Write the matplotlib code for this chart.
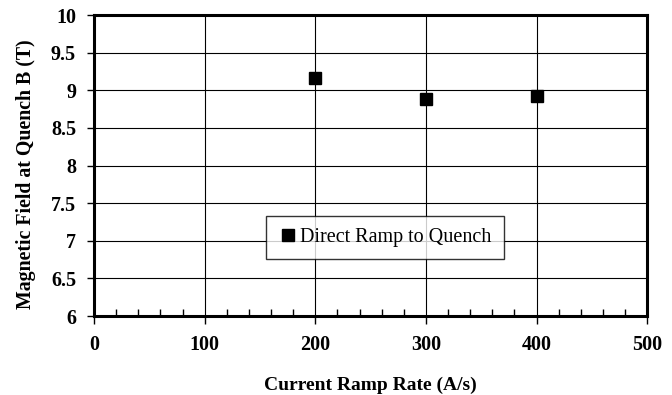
import matplotlib.pyplot as plt
from matplotlib.ticker import MultipleLocator

# data
ramp_rate = [200, 300, 400]
b_quench = [9.16, 8.88, 8.93]
x_ticks = [0, 100, 200, 300, 400, 500]
y_ticks = [6, 6.5, 7, 7.5, 8, 8.5, 9, 9.5, 10]
y_tick_labels = ['6', '6.5', '7', '7.5', '8', '8.5', '9', '9.5', '10']

plt.rcParams['font.family'] = ['Liberation Serif', 'DejaVu Serif']

fig = plt.figure(figsize=(6.72, 3.95), dpi=100)
ax = fig.add_axes([0.14, 0.2, 0.823, 0.762])

ax.plot(ramp_rate, b_quench, 's', color='black', markersize=9,
        label='Direct Ramp to Quench', zorder=3)

ax.set_xlim(0, 500)
ax.set_ylim(6, 10)
ax.set_xticks(x_ticks)
ax.set_yticks(y_ticks)
ax.set_yticklabels(y_tick_labels)
ax.xaxis.set_minor_locator(MultipleLocator(20))
ax.grid(True, which='major', color='black', linewidth=0.8)

ax.tick_params(axis='x', which='major', direction='out', length=6, width=1,
               pad=8, labelsize=14.5)
ax.tick_params(axis='x', which='minor', direction='in', length=5, width=1)
ax.tick_params(axis='y', which='major', direction='out', length=5, width=1,
               pad=8, labelsize=14.5)
for lab in ax.get_xticklabels() + ax.get_yticklabels():
    lab.set_fontweight('bold')

for s in ax.spines.values():
    s.set_linewidth(2.2)

ax.set_xlabel('Current Ramp Rate (A/s)', fontsize=14, fontweight='bold',
              labelpad=15)
ax.set_ylabel('Magnetic Field at Quench B (T)', fontsize=14.3,
              fontweight='bold')
ax.yaxis.set_label_coords(-0.105, 0.47)

leg = ax.legend(loc='center', bbox_to_anchor=(0.526, 0.26), fontsize=14.5,
                frameon=True, fancybox=False, edgecolor='black',
                handletextpad=0.1, handlelength=1.0, borderpad=0.6,
                markerscale=0.9)
leg.get_frame().set_linewidth(1.0)

plt.savefig('out.png', dpi=100)
